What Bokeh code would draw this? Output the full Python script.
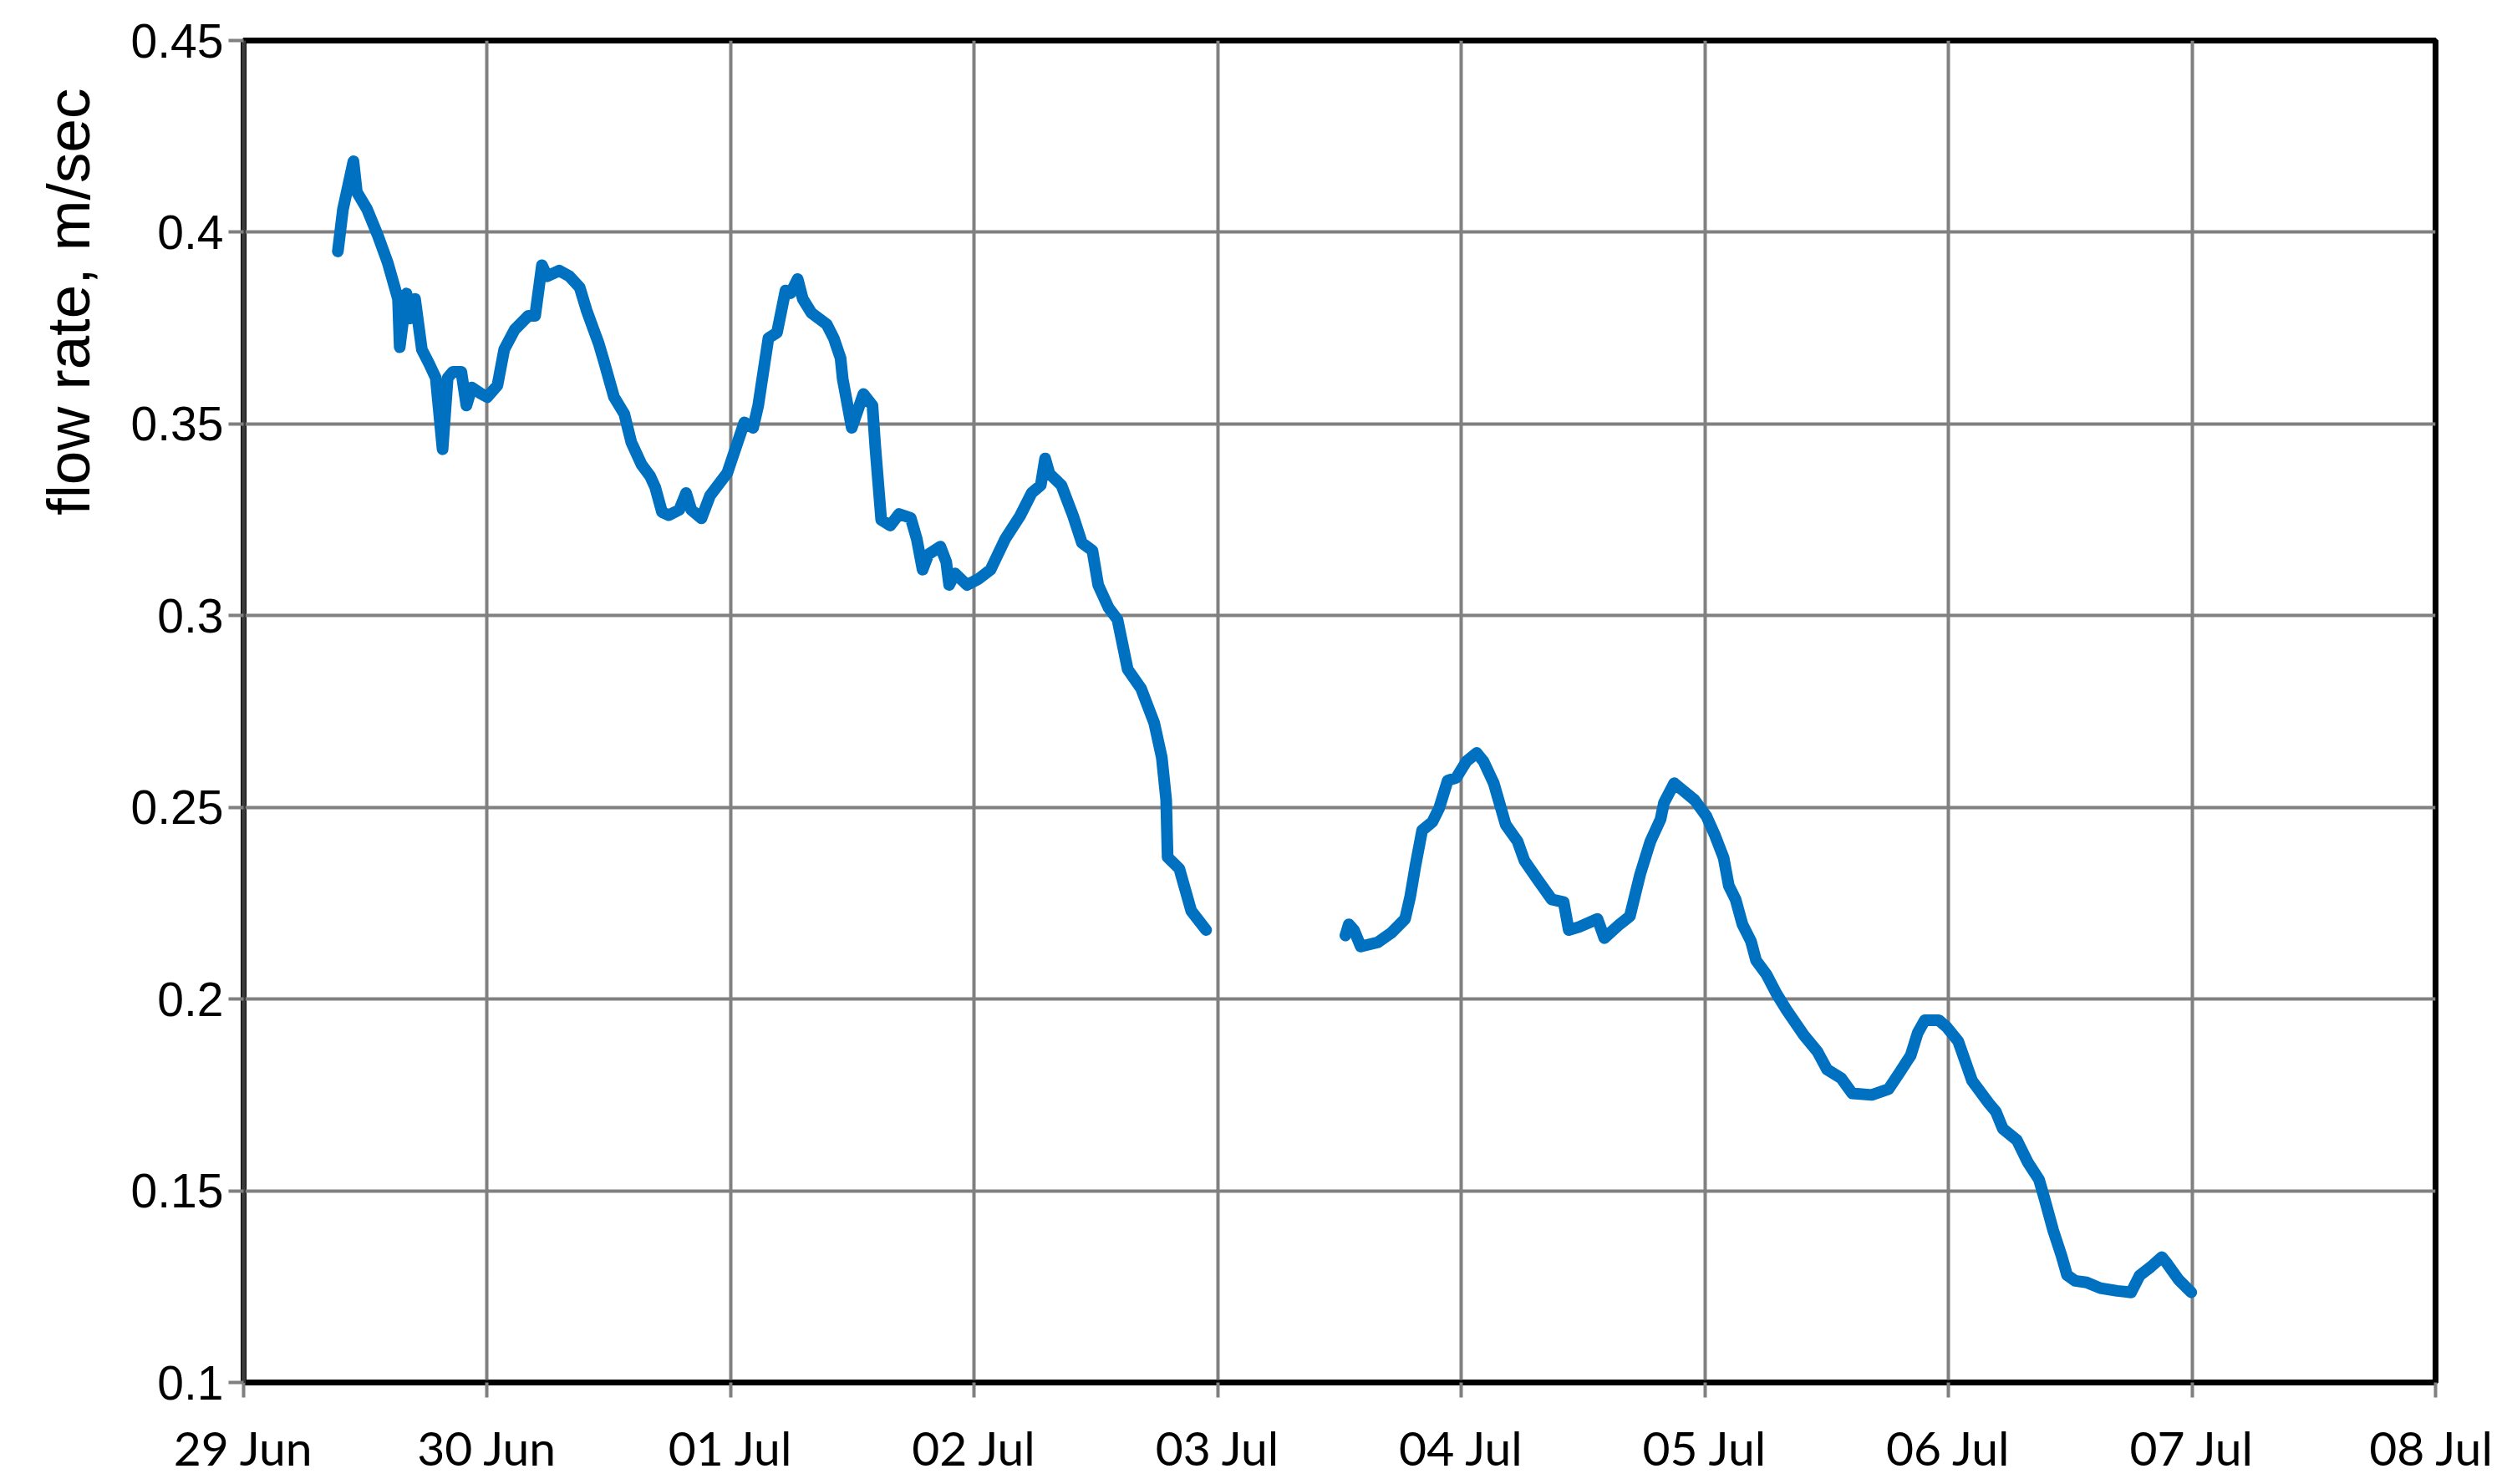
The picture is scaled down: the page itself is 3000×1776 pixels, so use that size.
import pandas as pd
from bokeh.plotting import figure
from bokeh.models import Range1d, FixedTicker, DatetimeTickFormatter, Title
from bokeh.embed import file_html
from bokeh.resources import INLINE

# ---------------- data ----------------
start_date = "2013-06-29"
tick_labels = ["29 Jun", "30 Jun", "01 Jul", "02 Jul", "03 Jul",
               "04 Jul", "05 Jul", "06 Jul", "07 Jul", "08 Jul"]
y_ticks = [0.1, 0.15, 0.2, 0.25, 0.3, 0.35, 0.4, 0.45]

# segment 1: days since 29 Jun 00:00, flow rate m/s
seg1_days = [0.387, 0.408, 0.451, 0.465, 0.507, 0.549, 0.592, 0.634, 0.641, 0.669,
             0.683, 0.704, 0.732, 0.761, 0.789, 0.817, 0.838, 0.859, 0.894, 0.915,
             0.937, 0.972, 1.000, 1.042, 1.070, 1.113, 1.169, 1.197, 1.225, 1.246,
             1.296, 1.338, 1.380, 1.408, 1.437, 1.458, 1.479, 1.521, 1.563, 1.592,
             1.634, 1.669, 1.690, 1.718, 1.746, 1.789, 1.817, 1.838, 1.880, 1.915,
             1.986, 2.056, 2.092, 2.113, 2.155, 2.190, 2.225, 2.246, 2.275, 2.296,
             2.331, 2.394, 2.423, 2.451, 2.460, 2.497, 2.545, 2.582, 2.594, 2.618,
             2.655, 2.691, 2.739, 2.764, 2.788, 2.812, 2.861, 2.885, 2.897, 2.921,
             2.970, 3.018, 3.067, 3.127, 3.188, 3.236, 3.273, 3.291, 3.309, 3.358,
             3.406, 3.442, 3.485, 3.509, 3.552, 3.588, 3.630, 3.685, 3.739, 3.770,
             3.788, 3.794, 3.842, 3.891, 3.952]
seg1_flow = [0.395, 0.406, 0.4185, 0.4105, 0.406, 0.3995, 0.392, 0.3826, 0.370, 0.384,
             0.3775, 0.3826, 0.3694, 0.3658, 0.362, 0.3434, 0.362, 0.3636, 0.3636, 0.3548,
             0.3595, 0.358, 0.357, 0.360, 0.3694, 0.3746, 0.3782, 0.3782, 0.3914, 0.3885,
             0.390, 0.3885, 0.3856, 0.3797, 0.3746, 0.371, 0.3665, 0.357, 0.3526, 0.3452,
             0.3394, 0.3364, 0.3335, 0.327, 0.3262, 0.3276, 0.332, 0.3276, 0.3254, 0.3313,
             0.3372, 0.3504, 0.349, 0.3548, 0.3724, 0.3738, 0.3848, 0.3841, 0.3878, 0.3826,
             0.379, 0.376, 0.3724, 0.3672, 0.3617, 0.349, 0.3578, 0.3548, 0.3438, 0.325,
             0.3235, 0.3265, 0.3255, 0.320, 0.312, 0.316, 0.318, 0.314, 0.308, 0.311,
             0.308, 0.3096, 0.312, 0.320, 0.326, 0.332, 0.334, 0.341, 0.337, 0.334,
             0.326, 0.319, 0.317, 0.308, 0.302, 0.299, 0.286, 0.281, 0.272, 0.263,
             0.252, 0.237, 0.234, 0.223, 0.218]

# segment 2
seg2_days = [4.524, 4.538, 4.559, 4.587, 4.657, 4.713, 4.769, 4.790, 4.811, 4.839,
             4.881, 4.909, 4.944, 4.979, 5.021, 5.063, 5.091, 5.133, 5.182, 5.231,
             5.259, 5.315, 5.371, 5.420, 5.441, 5.483, 5.559, 5.587, 5.650, 5.692,
             5.734, 5.776, 5.818, 5.832, 5.874, 5.916, 5.958, 6.007, 6.042, 6.077,
             6.098, 6.126, 6.154, 6.189, 6.210, 6.252, 6.294, 6.336, 6.406, 6.462,
             6.502, 6.559, 6.605, 6.685, 6.754, 6.800, 6.845, 6.874, 6.903, 6.960,
             6.994, 7.040, 7.097, 7.166, 7.195, 7.223, 7.281, 7.326, 7.372, 7.395,
             7.430, 7.464, 7.487, 7.521, 7.567, 7.624, 7.693, 7.750, 7.785, 7.830,
             7.876, 7.899, 7.945, 7.997]
seg2_flow = [0.2166, 0.2195, 0.218, 0.2137, 0.2148, 0.2173, 0.2209, 0.2267, 0.2346, 0.244,
             0.2462, 0.2498, 0.257, 0.2577, 0.262, 0.2642, 0.262, 0.2563, 0.2455, 0.2411,
             0.2361, 0.231, 0.226, 0.2253, 0.218, 0.2188, 0.2209, 0.2159, 0.2195, 0.2216,
             0.2325, 0.2411, 0.2469, 0.2512, 0.2563, 0.2541, 0.2519, 0.2476, 0.2426, 0.2368,
             0.2296, 0.226, 0.2195, 0.2151, 0.2101, 0.2065, 0.2014, 0.1971, 0.1906, 0.1863,
             0.1816, 0.1794, 0.1754, 0.175, 0.1765, 0.1809, 0.1853, 0.1912, 0.1945, 0.1945,
             0.1926, 0.189, 0.1787, 0.1728, 0.1706, 0.1662, 0.1632, 0.1574, 0.1529, 0.1478,
             0.1397, 0.1331, 0.128, 0.1265, 0.1261, 0.1246, 0.1239, 0.1235, 0.1279, 0.1301,
             0.1327, 0.1309, 0.1268, 0.1235]

# ---------------- build ----------------
base = pd.Timestamp(start_date)


def to_dt(days):
    return [base + pd.Timedelta(days=d) for d in days]


tick_dates = [base + pd.Timedelta(days=i) for i in range(len(tick_labels))]
tick_ms = [t.value / 1e6 for t in tick_dates]

p = figure(width=2984, height=1768, x_axis_type="datetime",
           output_backend="svg", toolbar_location=None,
           min_border_left=291, min_border_right=70,
           min_border_top=48, min_border_bottom=113)
p.x_range = Range1d(tick_ms[0], tick_ms[-1])
p.y_range = Range1d(y_ticks[0], y_ticks[-1])

blue = "#0070C0"
p.line(to_dt(seg1_days), seg1_flow, line_color=blue, line_width=14,
       line_join="round", line_cap="round")
p.line(to_dt(seg2_days), seg2_flow, line_color=blue, line_width=14,
       line_join="round", line_cap="round")

# axes
p.xaxis.ticker = FixedTicker(ticks=tick_ms)
p.xaxis.formatter = DatetimeTickFormatter(days="%d %b", months="%d %b",
                                          hours="%d %b", years="%d %b")
p.xaxis.major_label_overrides = {t: l for t, l in zip(tick_ms, tick_labels)}
p.yaxis.ticker = FixedTicker(ticks=y_ticks)
p.yaxis.major_label_overrides = {v: ("%g" % v) for v in y_ticks}

for ax in (p.xaxis, p.yaxis):
    ax.minor_tick_line_color = None
    ax.major_tick_in = 0
    ax.major_tick_out = 18
    ax.major_tick_line_color = "#808080"
    ax.major_tick_line_width = 4
    ax.major_label_text_color = "black"

p.xaxis.axis_line_color = "black"
p.xaxis.axis_line_width = 6
p.xaxis.major_label_text_font = "Lato"
p.xaxis.major_label_text_font_size = "57px"
p.xaxis.major_label_standoff = 25

p.yaxis.axis_line_color = "#3a3a3a"
p.yaxis.axis_line_width = 5
p.yaxis.major_label_text_font = "Liberation Sans"
p.yaxis.major_label_text_font_size = "57px"
p.yaxis.major_label_standoff = 6

# grid
for g in (p.xgrid, p.ygrid):
    g.grid_line_color = "#808080"
    g.grid_line_width = 4
p.xgrid.ticker = FixedTicker(ticks=tick_ms)
p.ygrid.ticker = FixedTicker(ticks=y_ticks)

p.outline_line_color = "black"
p.outline_line_width = 7
p.background_fill_color = "white"
p.border_fill_color = "white"

# y-axis title placed near the top like the original
ytitle = Title(text="flow rate, m/sec", align="right", offset=57,
               vertical_align="top",
               text_font="Liberation Sans", text_font_size="73px",
               text_font_style="normal", text_color="black", standoff=60)
p.add_layout(ytitle, "left")

open("out.html", "w").write(file_html(p, INLINE))
